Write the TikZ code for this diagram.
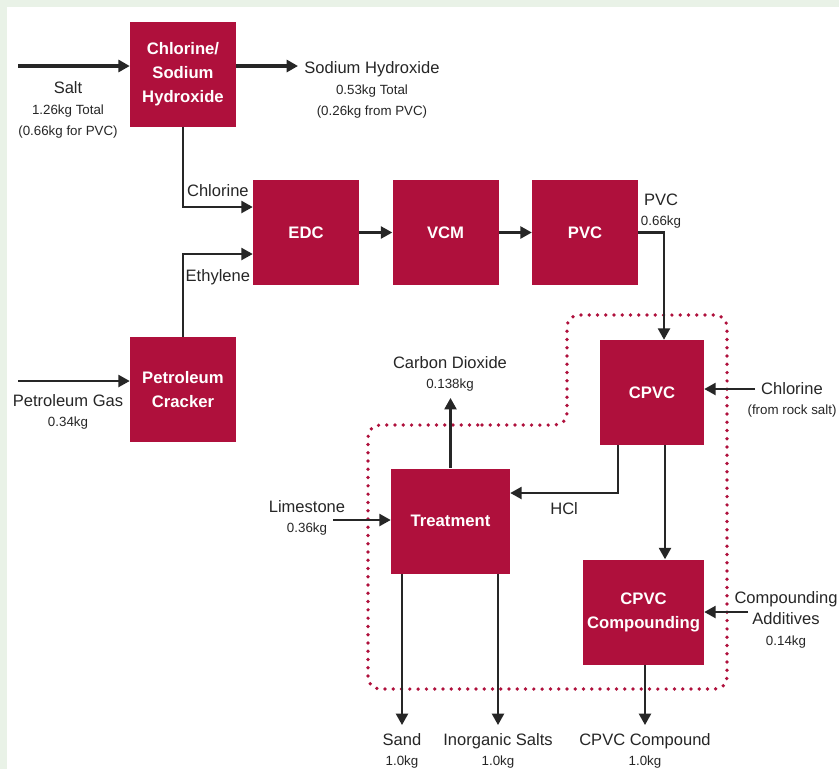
\documentclass[tikz,border=0pt]{standalone}
\usepackage{fontspec}
\setmainfont{Liberation Sans}
\usetikzlibrary{arrows.meta,positioning,calc}
\definecolor{cpred}{HTML}{AF103C}
\definecolor{framegreen}{HTML}{E9F2E7}
\newcommand{\kgline}[1]{{\fontsize{10}{15}\selectfont #1}}

\begin{document}
\begin{tikzpicture}[x=0.75pt,y=-0.75pt,font=\fontsize{12.4}{15.5}\selectfont]
    \tikzstyle{proc}=[fill=cpred,text=white,font=\bfseries\fontsize{12.5}{18}\selectfont,minimum width=79.5pt,minimum height=78.75pt,align=center,inner sep=0pt]
    \tikzstyle{flow}=[-{Triangle[length=8.5pt,width=9pt]},line width=1.6pt,draw=black!85]
    \tikzstyle{bigflow}=[flow,line width=2.4pt]
    \tikzstyle{lbl}=[align=center,inner sep=0pt,text=black!85]
    \useasboundingbox (0,0) rectangle (839,769);
    \fill[framegreen] (0,0) rectangle (839,769);
    \fill[white] (7,7) rectangle (839,769);
    \draw[cpred,line width=2.8pt,line cap=round,dash pattern=on 0pt off 6.2pt,rounded corners=9pt]
        (470,425) -- (567,425) -- (567,315) -- (727,315) -- (727,689) -- (368,689) -- (368,425) -- cycle;
    \node[proc]                      (chlor) at (183,74)      {Chlorine/\\Sodium\\Hydroxide};
    \node[proc]                      (edc)   at (306,232.5)   {EDC};
    \node[proc,right=24.75pt of edc] (vcm)                    {VCM};
    \node[proc,right=24.75pt of vcm] (pvc)                    {PVC};
    \node[proc]                      (crack) at (183,389.5)   {Petroleum\\Cracker};
    \node[proc,minimum width=78pt]   (cpvc)  at (652,392.5)   {CPVC};
    \node[proc,minimum width=89.25pt] (treat) at (450.5,521)  {Treatment};
    \node[proc,minimum width=90.75pt] (cmpd) at (643.5,612)   {CPVC\\Compounding};
    \coordinate (saltin) at (18,66);
    \coordinate (naohout) at (298,66);
    \coordinate (pgin) at (18,381);
    \coordinate (limein) at (333,520);
    \coordinate (co2out) at (450.5,398);
    \coordinate (clrock) at (755,389);
    \coordinate (addin) at (748,612);
    \coordinate (sandout) at (402,725);
    \coordinate (saltsout) at (498,725);
    \coordinate (cmpdout) at (645,725);
    \coordinate (cpvcout) at ($(cpvc.south)+(13,0)$);
    \draw[bigflow] (saltin) -- (saltin -| chlor.west);
    \draw[bigflow] (naohout -| chlor.east) -- (naohout);
    \draw[flow] (chlor.south) |- ($(edc.west)+(0,-25.5)$) node[pos=0.75,above=7pt,lbl] (cl2lbl) {Chlorine};
    \draw[flow] (crack.north) |- ($(edc.west)+(0,21.5)$) node[pos=0.75,below=11pt,lbl] (c2h4lbl) {Ethylene};
    \draw[flow] (edc) -- (vcm);
    \draw[flow] (vcm) -- (pvc);
    \draw[flow] (pvc.east) -| ($(cpvc.north)+(12,0)$);
    \draw[flow] (pgin) -- (pgin -| crack.west);
    \draw[flow] (clrock) -- (clrock -| cpvc.east);
    \draw[flow] ($(cpvc.south)+(-34,0)$) |- ($(treat.east)+(0,-28)$) node[pos=0.75,below=6pt,lbl] (hcllbl) {HCl};
    \draw[flow] (cpvcout) -- (cpvcout |- cmpd.north);
    \draw[flow] (treat.north) -- (co2out);
    \draw[flow] (limein) -- (limein -| treat.west);
    \draw[flow] (addin) -- (cmpd.east);
    \draw[flow] (sandout |- treat.south) -- (sandout);
    \draw[flow] (saltsout |- treat.south) -- (saltsout);
    \draw[flow] (cmpdout |- cmpd.south) -- (cmpdout);
    \node[lbl] (saltlbl)  at (68,110)  {Salt\\\kgline{1.26kg Total}\\\kgline{(0.66kg for PVC)}};
    \node[lbl] (naohlbl)  at (372,90)  {Sodium Hydroxide\\\kgline{0.53kg Total}\\\kgline{(0.26kg from PVC)}};
    \node[lbl] (pvclbl)   at (661,211) {PVC\\\kgline{0.66kg}};
    \node[lbl] (pglbl)    at (68,412)  {Petroleum Gas\\\kgline{0.34kg}};
    \node[lbl] (co2lbl)   at (450,374) {Carbon Dioxide\\\kgline{0.138kg}};
    \node[lbl] (clrlbl)   at (792,400) {Chlorine\\\kgline{(from rock salt)}};
    \node[lbl] (addlbl)   at (786,620) {Compounding\\Additives\\\kgline{0.14kg}};
    \node[lbl] (limelbl)  at (307,518) {Limestone\\\kgline{0.36kg}};
    \node[lbl] (sandlbl)  at (402,751) {Sand\\\kgline{1.0kg}};
    \node[lbl] (saltslbl) at (498,751) {Inorganic Salts\\\kgline{1.0kg}};
    \node[lbl] (cmpdlbl)  at (645,751) {CPVC Compound\\\kgline{1.0kg}};
  \end{tikzpicture}
\end{document}
